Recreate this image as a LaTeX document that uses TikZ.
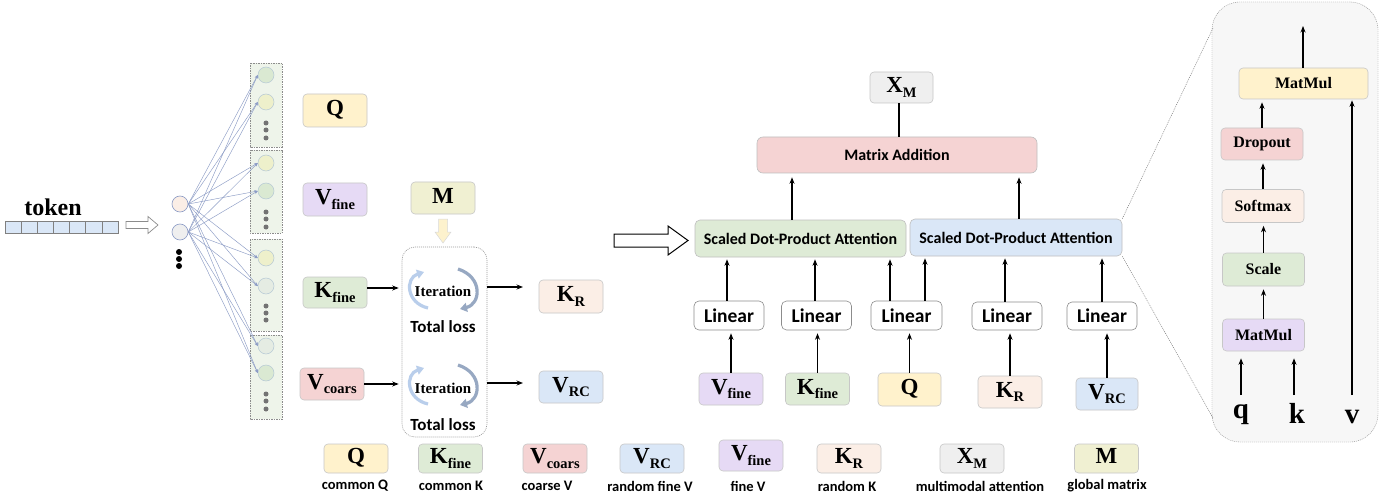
\documentclass[tikz,border=0pt]{standalone}
\usepackage{fontspec}
\setmainfont{Liberation Serif}
\newfontfamily\calib{Carlito}
\usetikzlibrary{arrows.meta,calc}

\definecolor{cyel}{HTML}{FFF2CC}
\definecolor{cpur}{HTML}{E6DAF5}
\definecolor{cgrn}{HTML}{DEEBD6}
\definecolor{cred}{HTML}{F5D3D3}
\definecolor{cblu}{HTML}{DAE7F7}
\definecolor{cpch}{HTML}{FBEEE6}
\definecolor{cgry}{HTML}{EFEFEF}
\definecolor{colv}{HTML}{F0F0D2}
\definecolor{lnk}{HTML}{8C9CC6}
\definecolor{colfill}{HTML}{EEF4EA}
\definecolor{ccb}{HTML}{B5C8D5}
\definecolor{cgreen}{HTML}{DAE9D2}
\definecolor{cyell}{HTML}{EEF0CB}
\definecolor{cgg}{HTML}{E5ECE3}
\definecolor{arcl}{HTML}{B9CEEB}
\definecolor{arcr}{HTML}{97A8C2}

\newcommand\lab[2]{\bfseries\fontsize{23}{23}\selectfont #1\raisebox{-4.5pt}{\fontsize{14.5}{15}\selectfont #2}}

\begin{document}
\begin{tikzpicture}[x=1pt,y=-1pt,
  box/.style={rounded corners=4pt, draw=black!22, line width=0.6pt, inner sep=0pt, minimum width=64pt, minimum height=32pt},
  arr/.style={-{Stealth[length=6.5pt,width=5pt]}, line width=1.3pt, black},
  conn/.style={draw=lnk, line width=0.45pt, -{Stealth[length=3.5pt,width=3pt]}},
  lin/.style={rounded corners=5pt, draw=black!45, line width=0.6pt, fill=white, minimum width=70pt, minimum height=29pt, inner sep=0pt, font=\calib\bfseries\fontsize{19.5}{20}\selectfont},
  sdpa/.style={rounded corners=5pt, draw=black!25, line width=0.6pt, minimum width=211pt, minimum height=37pt, inner sep=0pt, font=\calib\bfseries\fontsize{16}{16}\selectfont},
  leg/.style={font=\calib\bfseries\fontsize{14.5}{15}\selectfont, inner sep=0pt},
  pbox/.style={rounded corners=4pt, draw=black!22, line width=0.6pt, minimum width=82pt, minimum height=32pt, inner sep=0pt, font=\bfseries\fontsize{16}{16}\selectfont},
  dotc/.style={circle, fill=black!55, inner sep=0pt, minimum size=5pt},
  cc/.style={circle, draw=ccb, line width=0.5pt, inner sep=0pt, minimum size=16pt},
  itt/.style={font=\bfseries\fontsize{15}{15}\selectfont, inner sep=0pt},
  tl/.style={font=\calib\bfseries\fontsize{17}{17}\selectfont, inner sep=0pt},
]
\path[use as bounding box, fill=white] (0,0) rectangle (1396,497);

% ---------------- right panel -----------------
\node[draw=black!45, dash pattern=on 1pt off 1pt, fill=black!3, rounded corners=28pt, minimum width=166pt, minimum height=440pt, inner sep=0pt] (panel) at (1295,222) {};
\coordinate (z1) at (1213,28);
\coordinate (z2) at (1213,418);

% ---------------- token ----------------
\node[font=\bfseries\fontsize{24}{24}\selectfont, inner sep=0pt] (token) at (53,207) {token};
\foreach \i in {0,...,6}
  \draw[fill=cblu, draw=black!50, line width=0.5pt] (5+\i*16.14,221) rectangle ++(16.14,12);
\draw[draw=black!45, fill=white, line width=0.7pt] (126,221.5) -- (148,221.5) -- (148,216.5) -- (158,225) -- (148,233.5) -- (148,228.5) -- (126,228.5) -- cycle;

% left circles
\node[circle, draw=lnk, fill=cpch, line width=0.6pt, inner sep=0pt, minimum size=16pt] (c1) at (180,204) {};
\node[circle, draw=lnk, fill=cgry, line width=0.6pt, inner sep=0pt, minimum size=16pt] (c2) at (180,232) {};
\foreach \yy/\nm in {252/d1,259/d2,266/d3}
  \node[circle, fill=black, inner sep=0pt, minimum size=6pt] (\nm) at (179,\yy) {};

% columns
\foreach \ya/\yb in {63/147, 150/233, 239/331, 335/419}
  \draw[draw=black!45, dash pattern=on 1.5pt off 1pt, line width=0.5pt, fill=colfill] (250,\ya) rectangle (282,\yb);
\node[cc, fill=cgreen] (g1a) at (266,75) {};
\node[cc, fill=cyell]  (g1b) at (266,102) {};
\node[cc, fill=cyell]  (g2a) at (266,163) {};
\node[cc, fill=cgreen] (g2b) at (266,191) {};
\node[cc, fill=cyell]  (g3a) at (266,258) {};
\node[cc, fill=cgg]    (g3b) at (266,286) {};
\node[cc, fill=cgg]    (g4a) at (266,346) {};
\node[cc, fill=cgreen] (g4b) at (266,373) {};
\foreach \yy [count=\k] in {123,130,138, 212,219,227, 306,313,320, 394,401,409}
  \node[dotc] (cd\k) at (266,\yy) {};

\foreach \s in {c1,c2}
  \foreach \t in {g1a,g1b,g2a,g2b,g3a,g3b,g4a,g4b}
    \draw[conn] (\s.east) -- (\t.west);

% ---------------- Q/K/V boxes ----------------
\node[box, fill=cyel, minimum height=33pt] (ql) at (335,110.5) {\lab{Q}{}};
\node[box, fill=cpur, minimum height=33pt] (vfl) at (335,199.5) {\lab{V}{fine}};
\node[box, fill=cgrn, minimum height=31pt] (kfl) at (335,292.5) {\lab{K}{fine}};
\node[box, fill=cred] (vcl) at (332,384) {\lab{V}{coars}};
\node[box, fill=colv] (mm) at (443,198) {\lab{M}{}};
\draw[draw=black!15, fill=cyel!85!colv, line width=0.5pt] (438.5,219) -- (447.5,219) -- (447.5,232) -- (451,232) -- (443,243) -- (435,232) -- (438.5,232) -- cycle;

% iteration box
\node[draw=black!40, dash pattern=on 1pt off 1pt, line width=0.6pt, rounded corners=13pt, minimum width=85pt, minimum height=190pt, inner sep=0pt] (iterbox) at (444.5,342) {};
\node[itt] (it1) at (443,291) {Iteration};
\node[tl] (tl1) at (443,327) {Total loss};
\node[itt] (it2) at (443,388) {Iteration};
\node[tl] (tl2) at (443,425) {Total loss};
\foreach \yc in {290,386}{
  \begin{scope}[shift={(443,\yc)}]
    \draw[arcl, line width=3.2pt, -{Triangle[length=7pt,width=9pt]}] (-15,18) .. controls (-37,13) and (-38,-12) .. (-19,-18);
    \draw[arcr, line width=3.2pt, -{Triangle[length=7pt,width=9pt]}] (15,-21) .. controls (40,-13) and (38,14) .. (17,19);
  \end{scope}}

\node[box, fill=cpch, minimum height=33pt] (krl) at (571,296.5) {\lab{K}{R}};
\node[box, fill=cblu] (vrcl) at (571,387) {\lab{V}{RC}};

\draw[arr, shorten >=3pt] (kfl.east |- 0,288) -- (iterbox.west |- 0,288);
\draw[arr, shorten >=3pt] (vcl.east) -- (vcl.east -| iterbox.west);
\coordinate (o1) at (523,287);
\coordinate (o2) at (523,383);
\draw[arr] (iterbox.east |- o1) -- (o1);
\draw[arr] (iterbox.east |- o2) -- (o2);

% big hollow arrow
\draw[draw=black, fill=white, line width=1pt] (614,234) -- (668,234) -- (668,226) -- (688,240.5) -- (668,255) -- (668,247) -- (614,247) -- cycle;

% ---------------- attention block ----------------
\node[box, fill=cgry, minimum width=63pt, minimum height=31pt] (xm) at (901.5,87.5) {\lab{X}{M}};
\node[rounded corners=6pt, draw=black!25, line width=0.6pt, fill=cred, minimum width=280pt, minimum height=36pt, inner sep=0pt, font=\calib\bfseries\fontsize{16}{16}\selectfont] (ma) at (897,155) {Matrix Addition};
\node[sdpa, fill=cgrn] (sd1) at (800.5,238.5) {Scaled Dot-Product Attention};
\node[sdpa, fill=cblu, minimum width=212pt] (sd2) at (1016,237.5) {Scaled Dot-Product Attention};

\node[lin] (l1) at (729,315.5) {Linear};
\node[lin] (l2) at (816.5,315.5) {Linear};
\node[lin, minimum width=71pt] (l3) at (906.5,315.5) {Linear};
\node[lin, minimum height=28pt] (l4) at (1007,316) {Linear};
\node[lin, minimum height=28pt] (l5) at (1102,316) {Linear};

\node[box, fill=cpur] (bvf) at (731,389) {\lab{V}{fine}};
\node[box, fill=cgrn] (bkf) at (817.5,389) {\lab{K}{fine}};
\node[box, fill=cyel, minimum width=63pt, minimum height=33pt] (bq) at (909.5,389.5) {\lab{Q}{}};
\node[box, fill=cpch] (bkr) at (1010,392) {\lab{K}{R}};
\node[box, fill=cblu, minimum width=62pt] (bvrc) at (1107,394) {\lab{V}{RC}};

\foreach \b/\l in {bvf/l1, bkf/l2, bq/l3, bkr/l4, bvrc/l5}
  \draw[arr, shorten >=3pt] (\b.north) -- (\b.north |- \l.south);

\draw[arr, shorten >=2pt] ([xshift=-2pt]l1.north) -- ([xshift=-2pt]l1.north |- sd1.south);
\draw[arr, shorten >=2pt] ([xshift=-1.5pt]l2.north) -- ([xshift=-1.5pt]l2.north |- sd1.south);
\draw[arr, shorten >=2pt] ([xshift=-16.5pt]l3.north) -- ([xshift=-16.5pt]l3.north |- sd1.south);
\draw[arr, shorten >=2pt] ([xshift=18.5pt]l3.north) -- ([xshift=18.5pt]l3.north |- sd2.south);
\draw[arr, shorten >=2pt] ([xshift=-2pt]l4.north) -- ([xshift=-2pt]l4.north |- sd2.south);
\draw[arr, shorten >=2pt] (l5.north) -- (l5.north |- sd2.south);

\draw[arr, shorten >=4pt] ([xshift=-8.5pt]sd1.north) -- ([xshift=-8.5pt]sd1.north |- ma.south);
\draw[arr, shorten >=4pt] ([xshift=3pt]sd2.north) -- ([xshift=3pt]sd2.north |- ma.south);
\draw[line width=1.3pt] ([xshift=-2.5pt]xm.south) -- ([xshift=-2.5pt]xm.south |- ma.north);

% zoom lines
\draw[black!50, dash pattern=on 1pt off 1pt, line width=0.5pt] (sd2.north east) -- (z1);
\draw[black!50, dash pattern=on 1pt off 1pt, line width=0.5pt] (sd2.south east) -- (z2);

% ---------------- panel content ----------------
\node[pbox, fill=cyel, minimum width=129pt, minimum height=31pt] (mmt) at (1303.5,83.5) {MatMul};
\node[pbox, fill=cred] (drop) at (1262,144) {Dropout};
\node[pbox, fill=cpch, minimum height=33pt] (soft) at (1263,206) {Softmax};
\node[pbox, fill=cgrn, minimum height=33pt] (scale) at (1263.5,269.5) {Scale};
\node[pbox, fill=cpur] (mmb) at (1263.5,335) {MatMul};
\coordinate (pout) at (1303,26);
\draw[arr] (mmt.north -| pout) -- (pout);
\draw[arr, shorten >=3pt] (drop.north) -- (drop.north |- mmt.south);
\draw[arr, shorten >=3pt] (soft.north) -- (soft.north |- drop.south);
\draw[arr, shorten >=3pt] (scale.north) -- (scale.north |- soft.south);
\draw[arr, shorten >=3pt] (mmb.north) -- (mmb.north |- scale.south);

\node[font=\bfseries\fontsize{29}{29}\selectfont, inner sep=0pt] (qq) at (1241,415) {q};
\node[font=\bfseries\fontsize{29}{29}\selectfont, inner sep=0pt] (kk) at (1297,413) {k};
\node[font=\bfseries\fontsize{29}{29}\selectfont, inner sep=0pt] (vv) at (1352,417) {v};
\coordinate (qs) at (1241,395);
\coordinate (ks) at (1294,395);
\coordinate (vs) at (1352,395);
\draw[arr, shorten >=7pt] (qs) -- (qs |- mmb.south);
\draw[arr, shorten >=7pt] (ks) -- (ks |- mmb.south);
\draw[arr, shorten >=1pt] (vs) -- (vs |- mmt.south);

% ---------------- legend ----------------
\node[box, fill=cyel, minimum height=29pt] (lg1) at (356,458.5) {\lab{Q}{}};
\node[box, fill=cgrn, minimum height=29pt] (lg2) at (450.5,458.5) {\lab{K}{fine}};
\node[box, fill=cred, minimum height=29pt] (lg3) at (555,458.5) {\lab{V}{coars}};
\node[box, fill=cblu, minimum height=29pt] (lg4) at (652,458.5) {\lab{V}{RC}};
\node[box, fill=cpur, minimum height=31pt] (lg5) at (751,455.5) {\lab{V}{fine}};
\node[box, fill=cpch, minimum height=29pt] (lg6) at (849,458.5) {\lab{K}{R}};
\node[box, fill=cgry, minimum height=29pt] (lg7) at (972,458.5) {\lab{X}{M}};
\node[box, fill=colv, minimum height=29pt] (lg8) at (1106.5,458.5) {\lab{M}{}};
\node[leg] (t1) at (355,486) {common Q};
\node[leg] (t2) at (451,486) {common K};
\node[leg] (t3) at (547,486) {coarse V};
\node[leg] (t4) at (650,486) {random fine V};
\node[leg] (t5) at (748,486) {fine V};
\node[leg] (t6) at (847,486) {random K};
\node[leg] (t7) at (980,486) {multimodal attention};
\node[leg] (t8) at (1107,486) {global matrix};
\end{tikzpicture}
\end{document}
